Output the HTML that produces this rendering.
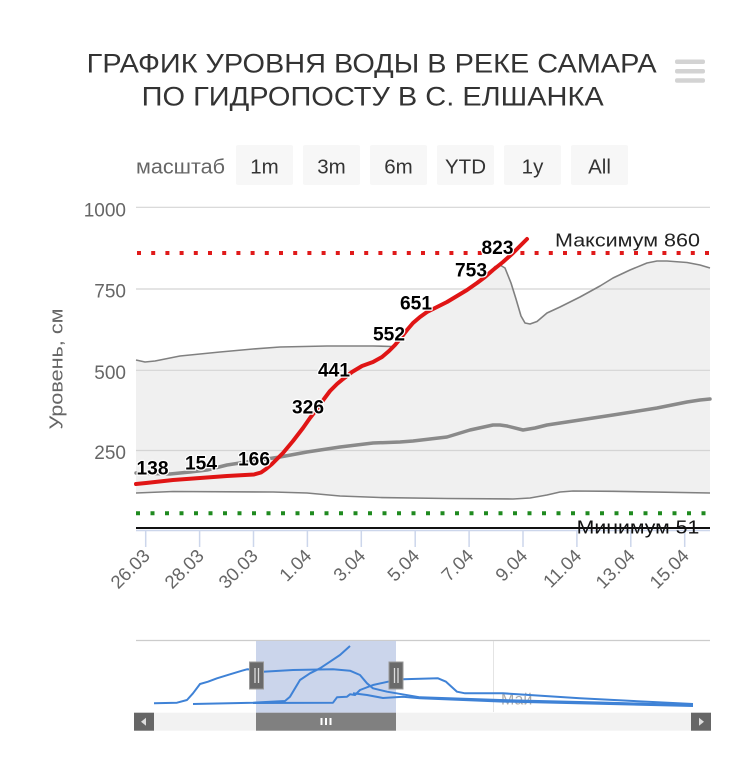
<!DOCTYPE html>
<html><head><meta charset="utf-8"><style>
html,body{margin:0;padding:0;background:#fff;}
svg{display:block;font-family:"Liberation Sans","Noto Sans CJK SC",sans-serif;}
</style></head><body>
<svg width="750" height="763" viewBox="0 0 750 763" xmlns="http://www.w3.org/2000/svg">
<rect width="750" height="763" fill="#fff"/>
<!-- Title -->
<text x="86.7" y="72.3" font-size="26.5" fill="#333" textLength="570" lengthAdjust="spacingAndGlyphs">ГРАФИК УРОВНЯ ВОДЫ В РЕКЕ САМАРА</text>
<text x="141.7" y="105.7" font-size="26.5" fill="#333" textLength="462" lengthAdjust="spacingAndGlyphs">ПО ГИДРОПОСТУ В С. ЕЛШАНКА</text>
<!-- hamburger -->
<rect x="675" y="59.5" width="30" height="4.5" rx="2" fill="#d3d3d3"/>
<rect x="675" y="69" width="30" height="4.5" rx="2" fill="#d3d3d3"/>
<rect x="675" y="78.3" width="30" height="4.5" rx="2" fill="#d3d3d3"/>
<!-- range selector -->
<text x="136" y="173.3" font-size="20" fill="#666" textLength="89" lengthAdjust="spacingAndGlyphs">масштаб</text>
<g fill="#f7f7f7">
<rect x="236" y="145" width="57" height="40" rx="2"/>
<rect x="303" y="145" width="57" height="40" rx="2"/>
<rect x="370" y="145" width="57" height="40" rx="2"/>
<rect x="437" y="145" width="57" height="40" rx="2"/>
<rect x="504" y="145" width="57" height="40" rx="2"/>
<rect x="571" y="145" width="57" height="40" rx="2"/>
</g>
<g font-size="20.5" fill="#333" text-anchor="middle">
<text x="264.5" y="173.3">1m</text>
<text x="331.5" y="173.3">3m</text>
<text x="398.5" y="173.3">6m</text>
<text x="465.5" y="173.3">YTD</text>
<text x="532.5" y="173.3">1y</text>
<text x="599.5" y="173.3">All</text>
</g>
<!-- y axis labels -->
<g font-size="19" fill="#666" text-anchor="end">
<text x="126" y="216.3">1000</text>
<text x="126" y="297.7">750</text>
<text x="126" y="379">500</text>
<text x="126" y="459">250</text>
</g>
<text transform="translate(62.3,369) rotate(-90)" text-anchor="middle" font-size="18" fill="#666" textLength="121" lengthAdjust="spacingAndGlyphs">Уровень, см</text>
<!-- range area fill -->
<path d="M136,360 L145,362 L155,361 L180,356 L220,352 L253,349 L280,347 L327,346 L373,346 L392,346.5 L395,345 L400,340 L407,331 L413,324 L420,318 L427,313 L437,308 L447,303 L457,297 L467,291 L477,284 L485,278 L490,272 L495,266.5 L500,265 L505,268 L511,283 L516,299 L521,316 L525,323 L530,324 L537,321.5 L547,313 L560,307 L580,297 L600,286 L613,278 L630,270 L647,263 L657,261 L667,261 L687,262.5 L700,265 L710,268 L710,493 L613,491.3 L573,491 L560,492 L547,495 L530,498 L513,499 L447,498.5 L380,497.5 L340,496 L307,493 L273,492 L173,491.5 L136,493 Z" fill="#f0f0f0"/>
<!-- gridlines -->
<g stroke="#d4d4d4" stroke-width="1.2">
<line x1="136" y1="207.3" x2="710" y2="207.3"/>
<line x1="136" y1="289" x2="710" y2="289"/>
<line x1="136" y1="370.3" x2="710" y2="370.3"/>
<line x1="136" y1="450.5" x2="710" y2="450.5"/>
</g>
<!-- range boundary lines -->
<polyline fill="none" stroke="#808080" stroke-width="1.6" stroke-linejoin="round" points="136,360 145,362 155,361 180,356 220,352 253,349 280,347 327,346 373,346 392,346.5 395,345 400,340 407,331 413,324 420,318 427,313 437,308 447,303 457,297 467,291 477,284 485,278 490,272 495,266.5 500,265 505,268 511,283 516,299 521,316 525,323 530,324 537,321.5 547,313 560,307 580,297 600,286 613,278 630,270 647,263 657,261 667,261 687,262.5 700,265 710,268"/>
<polyline fill="none" stroke="#808080" stroke-width="1.6" stroke-linejoin="round" points="136,493 173,491.5 273,492 307,493 340,496 380,497.5 447,498.5 513,499 530,498 547,495 560,492 573,491 613,491.3 710,493"/>
<!-- average line -->
<polyline fill="none" stroke="#8a8a8a" stroke-width="3.5" stroke-linejoin="round" stroke-linecap="round" points="136,473 170,474 190,472 207,470 227,465 253,461 280,457 307,452 340,447 373,443 400,442 413,441 447,437 470,430 493,425 500,425 507,426 523,430 535,428 547,425 580,420 613,415 657,408 687,402 700,400 710,399"/>
<!-- dotted plot lines -->
<line x1="137" y1="253" x2="710" y2="253" stroke="#e01a1a" stroke-width="4" stroke-dasharray="4 10.2"/>
<line x1="136" y1="513.3" x2="710" y2="513.3" stroke="#1f8a1f" stroke-width="4" stroke-dasharray="4 10.5"/>
<!-- x axis -->
<line x1="136" y1="530.5" x2="710" y2="530.5" stroke="#ccd6eb" stroke-width="1.5"/>
<line x1="136" y1="528" x2="710" y2="528" stroke="#111" stroke-width="2"/>
<g stroke="#ccd6eb" stroke-width="1.5">
<line x1="145.7" y1="530" x2="145.7" y2="547"/>
<line x1="199.6" y1="530" x2="199.6" y2="547"/>
<line x1="253.5" y1="530" x2="253.5" y2="547"/>
<line x1="307.4" y1="530" x2="307.4" y2="547"/>
<line x1="361.3" y1="530" x2="361.3" y2="547"/>
<line x1="415.2" y1="530" x2="415.2" y2="547"/>
<line x1="469.1" y1="530" x2="469.1" y2="547"/>
<line x1="523" y1="530" x2="523" y2="547"/>
<line x1="576.9" y1="530" x2="576.9" y2="547"/>
<line x1="630.8" y1="530" x2="630.8" y2="547"/>
<line x1="684.7" y1="530" x2="684.7" y2="547"/>
</g>
<g font-size="18.5" fill="#666" text-anchor="end">
<text transform="translate(151,557) rotate(-45)">26.03</text>
<text transform="translate(205,557) rotate(-45)">28.03</text>
<text transform="translate(259,557) rotate(-45)">30.03</text>
<text transform="translate(312.5,557) rotate(-45)">1.04</text>
<text transform="translate(366.5,557) rotate(-45)">3.04</text>
<text transform="translate(420.5,557) rotate(-45)">5.04</text>
<text transform="translate(474.5,557) rotate(-45)">7.04</text>
<text transform="translate(528.5,557) rotate(-45)">9.04</text>
<text transform="translate(582.5,557) rotate(-45)">11.04</text>
<text transform="translate(636,557) rotate(-45)">13.04</text>
<text transform="translate(690,557) rotate(-45)">15.04</text>
</g>
<!-- plot line labels -->
<text x="555" y="246.7" font-size="18.6" fill="#222" textLength="145" lengthAdjust="spacingAndGlyphs">Максимум 860</text>
<text x="576.7" y="533.3" font-size="18.6" fill="#111" textLength="122.6" lengthAdjust="spacingAndGlyphs">Минимум 51</text>
<line x1="576" y1="528" x2="700" y2="528" stroke="#111" stroke-width="2"/>
<!-- red current line -->
<polyline fill="none" stroke="#e01515" stroke-width="4" stroke-linejoin="round" stroke-linecap="round" points="136,484 146,483 173,480 200,478 227,476 254,474.5 261,472.5 266,469 272,464 283,453 293,441 303,428 310,418 317,409 324,399 330,391 337,384 343,379 352,372 362,366 373,362 382,357 389,351 395,345 400,339 407,330 413,323 420,317 427,312 437,307 447,302 457,296 467,290 477,283 485,277 493,270 503,262 513,253 520,246 527,239"/>
<!-- data labels -->
<g font-size="19.5" font-weight="bold" fill="#000" text-anchor="middle" stroke="#fff" stroke-width="2.5" paint-order="stroke" stroke-linejoin="round">
<text x="152.5" y="474.5" textLength="32" lengthAdjust="spacingAndGlyphs">138</text>
<text x="201" y="469.7" textLength="32" lengthAdjust="spacingAndGlyphs">154</text>
<text x="254" y="465.7" textLength="32" lengthAdjust="spacingAndGlyphs">166</text>
<text x="308" y="413.7" textLength="32" lengthAdjust="spacingAndGlyphs">326</text>
<text x="334" y="376.7" textLength="32" lengthAdjust="spacingAndGlyphs">441</text>
<text x="389" y="340.7" textLength="32" lengthAdjust="spacingAndGlyphs">552</text>
<text x="416" y="309.7" textLength="32" lengthAdjust="spacingAndGlyphs">651</text>
<text x="471" y="276.7" textLength="32" lengthAdjust="spacingAndGlyphs">753</text>
<text x="497.5" y="254" textLength="32" lengthAdjust="spacingAndGlyphs">823</text>
</g>
<!-- navigator -->
<line x1="136" y1="640.5" x2="710" y2="640.5" stroke="#cccccc" stroke-width="1.2"/>
<rect x="256" y="641" width="140" height="72" fill="#cbd5eb"/>
<line x1="493.5" y1="641" x2="493.5" y2="712" stroke="#e4e4e4" stroke-width="1"/>
<text x="501" y="704.5" font-size="16" fill="#aaa">Май</text>
<g fill="none" stroke="#3f82d6" stroke-width="2" stroke-linejoin="round">
<polyline points="154,703.3 177,702.7 187,700 193,693.3 200,684 208,681.7 217,678.3 230,674.3 242,670.7 247,669.3 256,670 263,671.7 293,670 333,669.3 350,670.7 360,675 367,683.3 373,688.3 387,691.7 420,697.3 500,700 600,702.5 693,705"/>
<polyline points="193,704 253,702.7 285,701 290,696.7 300,680 310,673.3 320,668.3 330,661.7 340,655 350,646"/>
<polyline points="253,703 333,702.7 337,697.3 347,696.7 350,694.3 355,695 360,690 373,685 388,681.7 403,679.3 438,678.3 446,681.7 457,691.7 465,693.3 503,693.3 580,698.3 693,704"/>
<polyline points="353,693.3 367,695 383,698 403,696.7 420,698.3 500,701.5 693,706"/>
</g>
<!-- handles -->
<rect x="249.5" y="662" width="14" height="27" fill="#6a6a6a" stroke="#999" stroke-width="1"/>
<line x1="255" y1="668" x2="255" y2="683" stroke="#ddd" stroke-width="1.3"/>
<line x1="258.5" y1="668" x2="258.5" y2="683" stroke="#ddd" stroke-width="1.3"/>
<rect x="389" y="662" width="14" height="27" fill="#6a6a6a" stroke="#999" stroke-width="1"/>
<line x1="394.5" y1="668" x2="394.5" y2="683" stroke="#ddd" stroke-width="1.3"/>
<line x1="398" y1="668" x2="398" y2="683" stroke="#ddd" stroke-width="1.3"/>
<!-- scrollbar -->
<rect x="136" y="712.7" width="574" height="18" fill="#f2f2f2"/>
<rect x="134" y="712.7" width="20" height="18" fill="#666"/>
<path d="M141,721.7 L146,717.7 L146,725.7 Z" fill="#ddd"/>
<rect x="691" y="712.7" width="20" height="18" fill="#666"/>
<path d="M704,721.7 L699,717.7 L699,725.7 Z" fill="#ddd"/>
<rect x="256" y="712.7" width="140" height="18" fill="#808080"/>
<g stroke="#fff" stroke-width="2">
<line x1="321.5" y1="718" x2="321.5" y2="725"/>
<line x1="326" y1="718" x2="326" y2="725"/>
<line x1="330.5" y1="718" x2="330.5" y2="725"/>
</g>
</svg>
</body></html>
